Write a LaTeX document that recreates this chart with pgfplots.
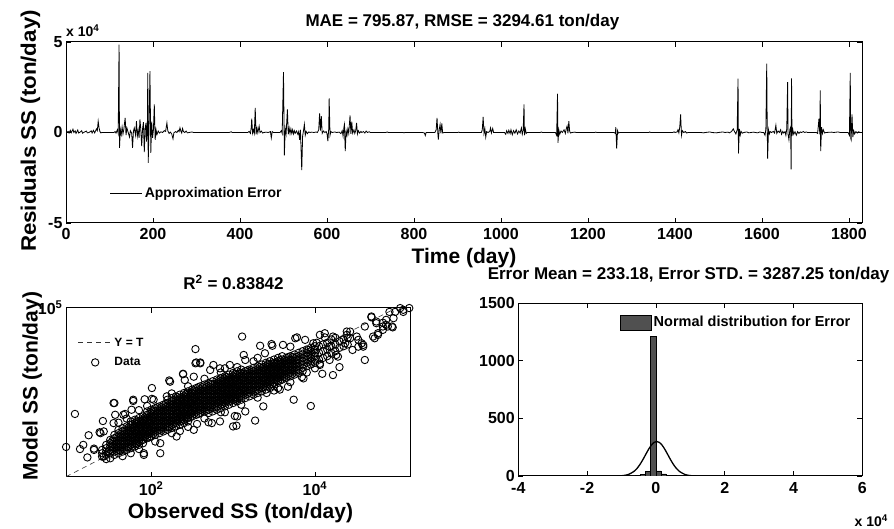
\documentclass[border=0pt]{standalone}
\usepackage{pgfplots}
\pgfplotsset{compat=1.18}
\usepackage{fontspec}
\setmainfont{Liberation Sans}
\definecolor{bargray}{RGB}{80,80,80}

\pgfplotsset{
  matfig/.style={
    scale only axis,
    axis line style={line width=1pt},
    tick align=inside,
    major tick length=5pt,
    every tick/.style={black, line width=0.8pt},
    tick label style={font=\fontsize{16}{18}\selectfont\bfseries},
    xticklabel style={yshift=-1.5pt},
    label style={font=\fontsize{21}{23}\selectfont\bfseries},
    title style={font=\fontsize{17}{19}\selectfont\bfseries},
    /pgf/number format/assume math mode=true,
    /pgf/number format/1000 sep={},
    scaled ticks=false,
    legend cell align=left,
  },
}

\begin{document}
\begin{tikzpicture}
\useasboundingbox (0pt,0pt) rectangle (894pt,529pt);

% ---- residuals vs time ----
\begin{axis}[matfig,
  at={(66pt,306pt)}, anchor=south west,
  width=796pt, height=181pt,
  xmin=0, xmax=1830, ymin=-50000, ymax=50000,
  xtick={0,200,...,1800},
  ytick={-50000,0,50000}, yticklabels={-5,0,5},
  xlabel={Time (day)}, ylabel={\scalebox{1.063}[1]{Residuals SS (ton/day)}},
  xlabel style={at={(0.5,-0.2265)}, anchor=base},
  ylabel style={at={(-0.0377,0.508)}, anchor=base},
  title={MAE = 795.87, RMSE = 3294.61 ton/day},
  title style={at={(0.498,1.083)}, anchor=base, yshift=-6pt},
  legend style={at={(0.055,0.166)}, anchor=west, draw=none, fill=white,
    inner sep=0pt, font=\fontsize{14}{16}\selectfont\bfseries},
  legend image code/.code={\draw[#1] (0pt,0pt) -- (32pt,0pt);},
  after end axis/.code={
    \node[anchor=base west, inner sep=0pt, font=\fontsize{14}{16}\selectfont\bfseries]
      at ([yshift=5pt]rel axis cs:0,1) {x 10\textsuperscript{4}};
  },
]
\addplot[black, line width=0.8pt] coordinates {
(1,0) (5,600) (7,-300) (10,1200) (12,-200) (16,1800) (18,0) (21,900) (23,-500) (27,1400) (29,-300) (33,300) (36,1000) (38,-400) (42,200) (47,800) (49,-200) (53,0) (58,900) (60,-300) (63,1200) (66,-200) (70,2000) (72,1000) (74,6200) (76,2500) (78,500) (80,-200) (83,0)
(110,0) (113,500) (115,-300) (118,1500) (120,-500) (122,48600) (123,-8500) (125,1500) (127,-1200) (129,3000) (131,-800) (133,1800) (136,8100) (138,-1500) (140,2500) (143,0) (146,-2500) (148,1000) (151,-400) (153,-8500) (155,600) (157,2500) (160,-1500) (162,6200) (164,-2000) (166,1200) (168,-3000) (170,7200) (172,1500) (174,-7500) (176,2000) (178,5700) (180,-10900) (182,2500) (184,5300) (185,-5000) (187,2000) (188,33000) (189,-16800) (191,4000) (193,33900) (195,-11200) (197,6000) (199,-3000) (201,1500) (203,15500) (205,-4000) (207,1500) (209,-1200) (212,800) (215,-300) (218,400) (222,0) (226,1000) (229,600) (232,5300) (234,1000) (237,-500) (240,200) (243,-800) (246,-3500) (248,-200) (252,500) (255,0) (258,1200) (260,500) (262,2600) (264,800) (266,-300) (268,2200) (270,500) (273,0) (276,800) (279,-200) (283,0) (290,300) (293,0) (300,0)
(375,0) (380,400) (382,0)
(418,0) (421,600) (424,-500) (426,3000) (427,7700) (429,-400) (431,1500) (433,-500) (435,13600) (437,-1000) (439,2500) (441,-200) (444,3500) (446,0) (449,800) (452,-300) (455,0) (460,200) (465,0) (470,500) (472,-3000) (474,500) (477,0)
(492,0) (495,1000) (497,-500) (500,33300) (502,-12700) (504,2000) (506,-800) (509,12700) (511,-1000) (513,2500) (515,-600) (517,2000) (519,-500) (521,1500) (523,-800) (525,1000) (527,-400) (530,800) (533,-1000) (535,500) (537,-4000) (539,1500) (542,-20800) (544,-2000) (546,1000) (548,4500) (550,-1500) (552,600) (555,-600) (558,300) (561,0) (565,200) (570,0) (575,300) (578,0) (581,1500) (583,10500) (585,1000) (587,9000) (589,-500) (592,800) (595,0) (598,500) (600,-500) (602,-4800) (604,2000) (605,18800) (607,-1500) (609,500) (612,0) (618,300) (622,0) (628,200) (632,-600) (635,1000) (637,-2000) (639,3000) (640,4400) (641,-3000) (642,-10300) (644,1000) (646,-1500) (648,2000) (650,-500) (653,9400) (655,-800) (657,6000) (659,-400) (662,1500) (664,-500) (666,1000) (668,5300) (670,-800) (672,1000) (675,-300) (678,600) (680,0) (684,500) (687,-300) (690,800) (693,0) (697,400) (700,0)
(735,0) (739,300) (741,0) (775,0) (777,-200) (779,0)
(820,0) (824,-300) (826,-1700) (828,0) (848,0) (851,1500) (853,8100) (855,-1000) (856,-3900) (858,1500) (860,4400) (862,-500) (864,5000) (866,-300) (869,0)
(900,0) (903,200) (905,0)
(955,0) (957,1500) (959,8600) (961,-500) (963,2000) (965,-2600) (967,500) (970,0) (974,500) (976,2500) (978,-300) (981,2200) (983,0) (986,0)
(1008,0) (1011,-1000) (1013,1000) (1016,-500) (1018,1200) (1021,-600) (1023,1500) (1026,-1200) (1029,1000) (1032,-400) (1035,1500) (1038,-800) (1041,800) (1044,-300) (1047,2500) (1049,-1000) (1051,1000) (1053,15500) (1054,-1500) (1056,2000) (1058,-500) (1060,0)
(1090,0) (1093,300) (1095,0) (1125,0) (1128,-1500) (1130,21400) (1131,-5700) (1133,1500) (1135,-1000) (1138,800) (1141,0) (1145,1500) (1148,-500) (1150,2000) (1152,3500) (1154,-500) (1156,6300) (1158,500) (1160,-300) (1163,0) (1170,200) (1173,0)
(1215,0) (1218,200) (1220,0) (1260,0) (1263,-500) (1264,3000) (1266,-8900) (1268,1000) (1270,-300) (1273,0)
(1340,0) (1342,300) (1344,0) (1395,0) (1398,400) (1400,0) (1405,300) (1407,1500) (1409,-200) (1411,3000) (1413,10000) (1415,-1500) (1417,1000) (1420,0) (1424,500) (1427,-300) (1430,0)
(1460,0) (1465,-200) (1470,0) (1480,300) (1485,0) (1495,-200) (1500,0) (1510,300) (1515,0) (1522,200) (1525,-200) (1530,500) (1534,2000) (1537,500) (1540,-800) (1543,1500) (1545,29800) (1546,-11600) (1548,2000) (1550,-1500) (1552,600) (1555,-400) (1558,0) (1565,300) (1570,-200) (1575,0) (1580,200) (1585,0) (1590,-200) (1595,300) (1600,0)
(1604,0) (1607,-1500) (1609,2000) (1611,38100) (1612,5000) (1613,-14500) (1615,1500) (1617,-800) (1619,500) (1622,0) (1626,600) (1629,-300) (1632,4000) (1634,-500) (1637,800) (1640,0) (1643,1500) (1645,-1000) (1648,600) (1650,-300) (1653,500) (1655,-1500) (1657,2000) (1659,27800) (1660,-1000) (1662,-4000) (1664,1500) (1666,3000) (1667,-20400) (1668,29900) (1669,-2000) (1671,1500) (1673,-1000) (1676,400) (1679,-1500) (1682,500) (1685,-500) (1688,300) (1691,0) (1695,500) (1698,0) (1702,300) (1705,0)
(1725,0) (1728,-500) (1731,7600) (1733,-1000) (1734,23200) (1735,-10300) (1737,3000) (1739,-500) (1741,1500) (1744,-300) (1747,0) (1760,200) (1765,0) (1775,300) (1780,0)
(1798,0) (1801,-1500) (1803,33000) (1804,-3000) (1805,-4000) (1807,10000) (1809,-2500) (1811,1000) (1813,-800) (1816,500) (1819,-300) (1822,400) (1826,0)
};
\addlegendentry{Approximation Error}
\end{axis}

% ---- observed vs model ----
\begin{axis}[matfig,
  at={(66pt,52.3pt)}, anchor=south west,
  width=344pt, height=169pt,
  xmode=log, ymode=log,
  xmin=9.1, xmax=145000, ymin=9.1, ymax=100000,
  xminorticks=false, yminorticks=false,
  xtick={100,10000}, xticklabels={10\textsuperscript{2},10\textsuperscript{4}},
  ytick={100000}, yticklabels={10\textsuperscript{5}},
  xlabel={Observed SS (ton/day)}, ylabel={Model SS (ton/day)},
  xlabel style={at={(0.507,-0.246)}, anchor=base},
  ylabel style={at={(-0.0828,0.534)}, anchor=base},
  title={R\textsuperscript{2} = 0.83842},
  title style={at={(0.487,1.109)}, anchor=base, yshift=-6pt},
  legend style={at={(0.034,0.835)}, anchor=north west, draw=none, fill=white,
    inner sep=0pt, row sep=6pt, font=\fontsize{12}{14}\selectfont\bfseries},
  legend image code/.code={\draw[mark repeat=2, mark phase=2, #1] plot coordinates {(0pt,0pt) (17pt,0pt) (34pt,0pt)};},
]
\addplot[black!80, line width=0.6pt, dash pattern=on 5pt off 4pt] coordinates {(9.1,9.1) (100000,100000)};
\addlegendentry{Y = T}
\addplot[only marks, mark=o, mark size=3.7pt, black, mark options={line width=0.9pt}] coordinates {
(25.1,27.5) (25.1,33.1) (25.1,39.8)
(28.2,30.2) (28.2,36.3) (28.2,43.7) (28.2,52.5)
(31.6,33.1) (31.6,39.8) (31.6,47.9) (31.6,57.5) (31.6,69.2)
(35.5,30.2) (35.5,36.3) (35.5,43.7) (35.5,52.5) (35.5,63.1) (35.5,75.9) (35.5,91.2)
(39.8,33.1) (39.8,39.8) (39.8,47.9) (39.8,57.5) (39.8,69.2) (39.8,83.2) (39.8,100) (39.8,120)
(44.7,36.3) (44.7,43.7) (44.7,52.5) (44.7,63.1) (44.7,75.9) (44.7,91.2) (44.7,110) (44.7,132)
(50.1,39.8) (50.1,47.9) (50.1,57.5) (50.1,69.2) (50.1,83.2) (50.1,100) (50.1,120) (50.1,145)
(56.2,43.7) (56.2,52.5) (56.2,63.1) (56.2,75.9) (56.2,91.2) (56.2,110) (56.2,132) (56.2,158) (56.2,191)
(63.1,47.9) (63.1,57.5) (63.1,69.2) (63.1,83.2) (63.1,100) (63.1,120) (63.1,145) (63.1,174) (63.1,209)
(70.8,52.5) (70.8,63.1) (70.8,75.9) (70.8,91.2) (70.8,110) (70.8,132) (70.8,158) (70.8,191) (70.8,229)
(79.4,57.5) (79.4,69.2) (79.4,83.2) (79.4,100) (79.4,120) (79.4,145) (79.4,174) (79.4,209) (79.4,251)
(89.1,75.9) (89.1,91.2) (89.1,110) (89.1,132) (89.1,158) (89.1,191) (89.1,229) (89.1,275) (89.1,331)
(100,83.2) (100,100) (100,120) (100,145) (100,174) (100,209) (100,251) (100,302) (100,363)
(112,91.2) (112,110) (112,132) (112,158) (112,191) (112,229) (112,275) (112,331) (112,398)
(126,100) (126,120) (126,145) (126,174) (126,209) (126,251) (126,302) (126,363) (126,437)
(141,110) (141,132) (141,158) (141,191) (141,229) (141,275) (141,331) (141,398) (141,479)
(158,120) (158,145) (158,174) (158,209) (158,251) (158,302) (158,363) (158,437) (158,525) (158,631)
(178,132) (178,158) (178,191) (178,229) (178,275) (178,331) (178,398) (178,479) (178,575) (178,692)
(200,145) (200,174) (200,209) (200,251) (200,302) (200,363) (200,437) (200,525) (200,631) (200,759)
(224,158) (224,191) (224,229) (224,275) (224,331) (224,398) (224,479) (224,575) (224,692) (224,832)
(251,174) (251,209) (251,251) (251,302) (251,363) (251,437) (251,525) (251,631) (251,759) (251,912)
(282,191) (282,229) (282,275) (282,331) (282,398) (282,479) (282,575) (282,692) (282,832) (282,1000)
(316,251) (316,302) (316,363) (316,437) (316,525) (316,631) (316,759) (316,912) (316,1100)
(355,275) (355,331) (355,398) (355,479) (355,575) (355,692) (355,832) (355,1000) (355,1200)
(398,302) (398,363) (398,437) (398,525) (398,631) (398,759) (398,912) (398,1100) (398,1320)
(447,331) (447,398) (447,479) (447,575) (447,692) (447,832) (447,1000) (447,1200) (447,1450)
(501,302) (501,363) (501,437) (501,525) (501,631) (501,759) (501,912) (501,1100) (501,1320) (501,1580)
(562,331) (562,398) (562,479) (562,575) (562,692) (562,832) (562,1000) (562,1200) (562,1450) (562,1740)
(631,363) (631,437) (631,525) (631,631) (631,759) (631,912) (631,1100) (631,1320) (631,1580) (631,1910)
(708,398) (708,479) (708,575) (708,692) (708,832) (708,1000) (708,1200) (708,1450) (708,1740) (708,2090)
(794,437) (794,525) (794,631) (794,759) (794,912) (794,1100) (794,1320) (794,1580) (794,1910) (794,2290)
(891,479) (891,575) (891,692) (891,832) (891,1000) (891,1200) (891,1450) (891,1740) (891,2090) (891,2510)
(1000,525) (1000,631) (1000,759) (1000,912) (1000,1100) (1000,1320) (1000,1580) (1000,1910) (1000,2290) (1000,2750)
(1122,575) (1122,692) (1122,832) (1122,1000) (1122,1200) (1122,1450) (1122,1740) (1122,2090) (1122,2510) (1122,3020)
(1259,631) (1259,759) (1259,912) (1259,1100) (1259,1320) (1259,1580) (1259,1910) (1259,2290) (1259,2750) (1259,3310)
(1413,692) (1413,832) (1413,1000) (1413,1200) (1413,1450) (1413,1740) (1413,2090) (1413,2510) (1413,3020)
(1585,759) (1585,912) (1585,1100) (1585,1320) (1585,1580) (1585,1910) (1585,2290) (1585,2750) (1585,3310)
(1778,832) (1778,1000) (1778,1200) (1778,1450) (1778,1740) (1778,2090) (1778,2510) (1778,3020) (1778,3630)
(1995,912) (1995,1100) (1995,1320) (1995,1580) (1995,1910) (1995,2290) (1995,2750) (1995,3310) (1995,3980)
(2239,1000) (2239,1200) (2239,1450) (2239,1740) (2239,2090) (2239,2510) (2239,3020) (2239,3630) (2239,4370)
(2512,1100) (2512,1320) (2512,1580) (2512,1910) (2512,2290) (2512,2750) (2512,3310) (2512,3980) (2512,4790)
(2818,1200) (2818,1450) (2818,1740) (2818,2090) (2818,2510) (2818,3020) (2818,3630) (2818,4370) (2818,5250)
(3162,1320) (3162,1580) (3162,1910) (3162,2290) (3162,2750) (3162,3310) (3162,3980) (3162,4790) (3162,5750)
(3548,1740) (3548,2090) (3548,2510) (3548,3020) (3548,3630) (3548,4370) (3548,5250) (3548,6310)
(3981,1910) (3981,2290) (3981,2750) (3981,3310) (3981,3980) (3981,4790) (3981,5750) (3981,6920)
(4467,2090) (4467,2510) (4467,3020) (4467,3630) (4467,4370) (4467,5250) (4467,6310)
(5012,2290) (5012,2750) (5012,3310) (5012,3980) (5012,4790) (5012,5750) (5012,6920)
(5623,2510) (5623,3020) (5623,3630) (5623,4370) (5623,5250) (5623,6310) (5623,7590)
(6310,2750) (6310,3310) (6310,3980) (6310,4790) (6310,5750) (6310,6920) (6310,8320)
(7079,3020) (7079,3630) (7079,4370) (7079,5250) (7079,6310) (7079,7590) (7079,9120)
(7943,3980) (7943,4790) (7943,5750) (7943,6920) (7943,8320) (7943,10000)
(8913,4370) (8913,5250) (8913,6310) (8913,7590) (8913,9120) (8913,11000)
(10000,4790) (10000,5750) (10000,6920) (10000,8320) (10000,10000) (10000,12000)
(11220,5750) (11220,8320) (11220,12000)
(12590,6310) (12590,9120) (12590,13200)
(14130,6920) (14130,10000) (14130,14500)
(15850,8320) (15850,12000) (15850,17400)
(17780,9120) (17780,13200) (17780,19100)
(19950,11000) (19950,15800)
(22390,12000) (22390,17400)
(25120,13200) (25120,19100)
(33.5,38.0) (33.5,45.7) (33.5,55.0) (33.5,66.1)
(37.6,38.0) (37.6,45.7) (37.6,55.0) (37.6,66.1) (37.6,79.4)
(42.2,38.0) (42.2,45.7) (42.2,55.0) (42.2,66.1) (42.2,79.4) (42.2,95.5)
(47.3,45.7) (47.3,55.0) (47.3,66.1) (47.3,79.4) (47.3,95.5) (47.3,115)
(53.1,45.7) (53.1,55.0) (53.1,66.1) (53.1,79.4) (53.1,95.5) (53.1,115) (53.1,138)
(59.6,55.0) (59.6,66.1) (59.6,79.4) (59.6,95.5) (59.6,115) (59.6,138) (59.6,166)
(66.8,55.0) (66.8,66.1) (66.8,79.4) (66.8,95.5) (66.8,115) (66.8,138) (66.8,166) (66.8,200)
(75.0,66.1) (75.0,79.4) (75.0,95.5) (75.0,115) (75.0,138) (75.0,166) (75.0,200)
(84.1,79.4) (84.1,95.5) (84.1,115) (84.1,138) (84.1,166) (84.1,200) (84.1,240)
(94.4,79.4) (94.4,95.5) (94.4,115) (94.4,138) (94.4,166) (94.4,200) (94.4,240) (94.4,288)
(106,95.5) (106,115) (106,138) (106,166) (106,200) (106,240) (106,288) (106,347)
(119,115) (119,138) (119,166) (119,200) (119,240) (119,288) (119,347) (119,417)
(133,115) (133,138) (133,166) (133,200) (133,240) (133,288) (133,347) (133,417)
(150,138) (150,166) (150,200) (150,240) (150,288) (150,347) (150,417) (150,501)
(168,138) (168,166) (168,200) (168,240) (168,288) (168,347) (168,417) (168,501)
(188,166) (188,200) (188,240) (188,288) (188,347) (188,417) (188,501) (188,603)
(211,200) (211,240) (211,288) (211,347) (211,417) (211,501) (211,603) (211,724)
(237,200) (237,240) (237,288) (237,347) (237,417) (237,501) (237,603) (237,724)
(266,240) (266,288) (266,347) (266,417) (266,501) (266,603) (266,724) (266,871)
(299,240) (299,288) (299,347) (299,417) (299,501) (299,603) (299,724) (299,871)
(335,288) (335,347) (335,417) (335,501) (335,603) (335,724) (335,871) (335,1047)
(376,288) (376,347) (376,417) (376,501) (376,603) (376,724) (376,871) (376,1047) (376,1259)
(422,347) (422,417) (422,501) (422,603) (422,724) (422,871) (422,1047) (422,1259)
(473,347) (473,417) (473,501) (473,603) (473,724) (473,871) (473,1047) (473,1259)
(531,417) (531,501) (531,603) (531,724) (531,871) (531,1047) (531,1259) (531,1514)
(596,417) (596,501) (596,603) (596,724) (596,871) (596,1047) (596,1259) (596,1514)
(668,501) (668,603) (668,724) (668,871) (668,1047) (668,1259) (668,1514) (668,1820)
(750,501) (750,603) (750,724) (750,871) (750,1047) (750,1259) (750,1514) (750,1820)
(841,603) (841,724) (841,871) (841,1047) (841,1259) (841,1514) (841,1820) (841,2188)
(944,603) (944,724) (944,871) (944,1047) (944,1259) (944,1514) (944,1820) (944,2188)
(1059,603) (1059,724) (1059,871) (1059,1047) (1059,1259) (1059,1514) (1059,1820) (1059,2188) (1059,2630)
(1189,724) (1189,871) (1189,1047) (1189,1259) (1189,1514) (1189,1820) (1189,2188) (1189,2630)
(1334,871) (1334,1047) (1334,1259) (1334,1514) (1334,1820) (1334,2188) (1334,2630)
(1496,871) (1496,1047) (1496,1259) (1496,1514) (1496,1820) (1496,2188) (1496,2630) (1496,3162)
(1679,1047) (1679,1259) (1679,1514) (1679,1820) (1679,2188) (1679,2630) (1679,3162)
(1884,1047) (1884,1259) (1884,1514) (1884,1820) (1884,2188) (1884,2630) (1884,3162)
(2113,1259) (2113,1514) (2113,1820) (2113,2188) (2113,2630) (2113,3162) (2113,3802)
(2371,1259) (2371,1514) (2371,1820) (2371,2188) (2371,2630) (2371,3162) (2371,3802)
(2661,1514) (2661,1820) (2661,2188) (2661,2630) (2661,3162) (2661,3802) (2661,4571)
(2985,1514) (2985,1820) (2985,2188) (2985,2630) (2985,3162) (2985,3802) (2985,4571)
(3350,1820) (3350,2188) (3350,2630) (3350,3162) (3350,3802) (3350,4571)
(3758,1820) (3758,2188) (3758,2630) (3758,3162) (3758,3802) (3758,4571) (3758,5495)
(4217,2188) (4217,2630) (4217,3162) (4217,3802) (4217,4571) (4217,5495)
(4732,2630) (4732,3162) (4732,3802) (4732,4571) (4732,5495) (4732,6607)
(5309,2630) (5309,3162) (5309,3802) (5309,4571) (5309,5495) (5309,6607)
(5957,3162) (5957,3802) (5957,4571) (5957,5495) (5957,6607)
(9.12,46.8) (11.7,288) (13.5,41.7) (14.8,52.5) (17.2,89.1) (16.6,26.3) (20.0,42.7) (23.4,105) (25.7,195)
(35.5,525) (47.9,288) (60.3,589) (83.2,646) (102,1200) (102,661) (166,1820) (245,2570) (347,10230)
(355,4900) (398,4900) (525,3240) (692,3550) (1290,20400) (1410,5620) (2140,12300) (3020,12300)
(363,166) (501,182) (1100,151) (1410,331) (1860,200) (1050,257) (81.3,30.2) (5500,631) (8910,447)
(5750,18600) (7590,17000) (19950,3800) (16600,2450) (40700,5620) (38900,12900) (51300,20400)
(58900,22400) (49000,58900) (67600,43700) (74100,51300) (77600,35500) (89100,33900) (110000,97700)
(120000,79400) (142000,98000) (95500,79400) (67600,29500) (56200,46800) (33900,11700) (28800,9770)
(24500,22400) (26900,26900) (16600,20400) (13200,19500) (32400,20400) (15100,5620) (11500,4570)
(4070,12900) (5010,5620) (10500,14500) (8320,9770) (19100,6760) (10000,3550) (7240,2040) (3550,1200)
(2570,912) (2340,437)
(20.0,39.8) (24.0,100) (26.3,27.5) (34.7,525) (36.3,275) (34.7,174) (45.7,275) (60.3,631) (57.5,363)
(81.3,33.1) (107,631) (155,759) (170,1700) (257,1860) (347,4680) (398,4680) (245,2630) (331,2240)
(575,4270) (912,4270) (129,57.5) (129,33.1) (204,83.2) (331,120) (550,174) (692,191) (1000,145)
(1122,251) (26.3,110) (2950,13500) (1350,7410) (2450,8130) (6030,19500) (11500,22400) (13200,24500)
(3720,1100) (4680,1290) (6920,2190) (12300,2630) (11500,4270) (37200,14100) (40700,35500) (33900,17000)
(24500,26900) (26900,18600) (49000,61700) (56200,42700) (67600,35500) (74100,38900) (87100,35500)
(91200,56200) (81300,79400) (120000,89100) (58900,24500) (53700,18600) (38900,11700) (18200,7410)
(23400,14100) (15100,11700) (9550,14100) (5010,11700)
(178,891) (282,1320) (447,2000) (708,2820) (1122,3800) (1778,5250) (794,3550) (1995,6310) (89.1,447)
(70.8,355) (50.1,224) (39.8,178)
(56.2,33.1) (44.7,28.2) (70.8,41.7) (112,63.1) (178,100) (282,141) (447,224) (708,316) (1259,479)
(1995,708) (3162,1047) (5012,1660) (7943,2818) (224,112) (794,316) (31.6,25.1) (28.2,24.0)
};
\addlegendentry{Data}
\end{axis}

% ---- error histogram ----
\begin{axis}[matfig,
  at={(518.3pt,53pt)}, anchor=south west,
  width=344pt, height=172.7pt,
  xmin=-40000, xmax=60000, ymin=0, ymax=1500,
  xtick={-40000,-20000,0,20000,40000,60000}, xticklabels={-4,-2,0,2,4,6},
  xticklabel style={yshift=-1.5pt},
  ytick={0,500,1000,1500},
  title={Error Mean = 233.18, Error STD. = 3287.25 ton/day},
  title style={at={(0.495,1.135)}, anchor=base, yshift=-6pt},
  legend style={at={(0.2936,0.889)}, anchor=west, draw=none, fill=white,
    inner sep=0pt, font=\fontsize{14.5}{16}\selectfont\bfseries},
  legend image code/.code={\draw[#1] (0pt,-7.5pt) rectangle (31.7pt,7.5pt);},
  after end axis/.code={
    \node[anchor=base east, inner sep=0pt, font=\fontsize{14}{16}\selectfont\bfseries]
      at (axis description cs:1.0747,-0.295) {x 10\textsuperscript{4}};
  },
]
\addplot[ybar interval, fill=bargray, draw=black, line width=0.5pt] coordinates {
(-21000,1) (-19500,0) (-18000,1) (-16500,0) (-15000,1) (-13500,0) (-12000,1) (-10500,2) (-9000,1)
(-7500,2) (-6000,4) (-4500,15) (-3000,42) (-1500,1215) (0,45) (1500,18) (3000,6) (4500,3) (6000,2)
(7500,2) (9000,1) (10500,1) (12000,1) (13500,0) (15000,1) (16500,1) (18000,0) (19500,1) (21000,1)
(22500,0) (24000,0) (25500,1) (27000,1) (28500,1) (30000,1) (31500,0) (33000,1) (34500,0) (36000,0)
(37500,1) (39000,0) (40500,0) (42000,0) (43500,0) (45000,0) (46500,0) (48000,1) (49500,0)
};
\addlegendentry{Normal distribution for Error}
\addplot[black, line width=1.3pt, smooth, forget plot] coordinates {
(-21000,0) (-12915,0.1) (-11272,0.7) (-9628,3.3) (-7985,13.2) (-6341,40.6) (-5519,64.9) (-4698,97.4)
(-3876,137.3) (-3054,182) (-2232,226.4) (-1411,264.8) (-589,290.8) (233,300) (1055,290.8) (1877,264.8)
(2698,226.4) (3520,182) (4342,137.3) (5164,97.4) (5985,64.9) (6807,40.6) (8451,13.2) (10094,3.3)
(11738,0.7) (13381,0.1) (49500,0)
};
\end{axis}
\end{tikzpicture}
\end{document}
